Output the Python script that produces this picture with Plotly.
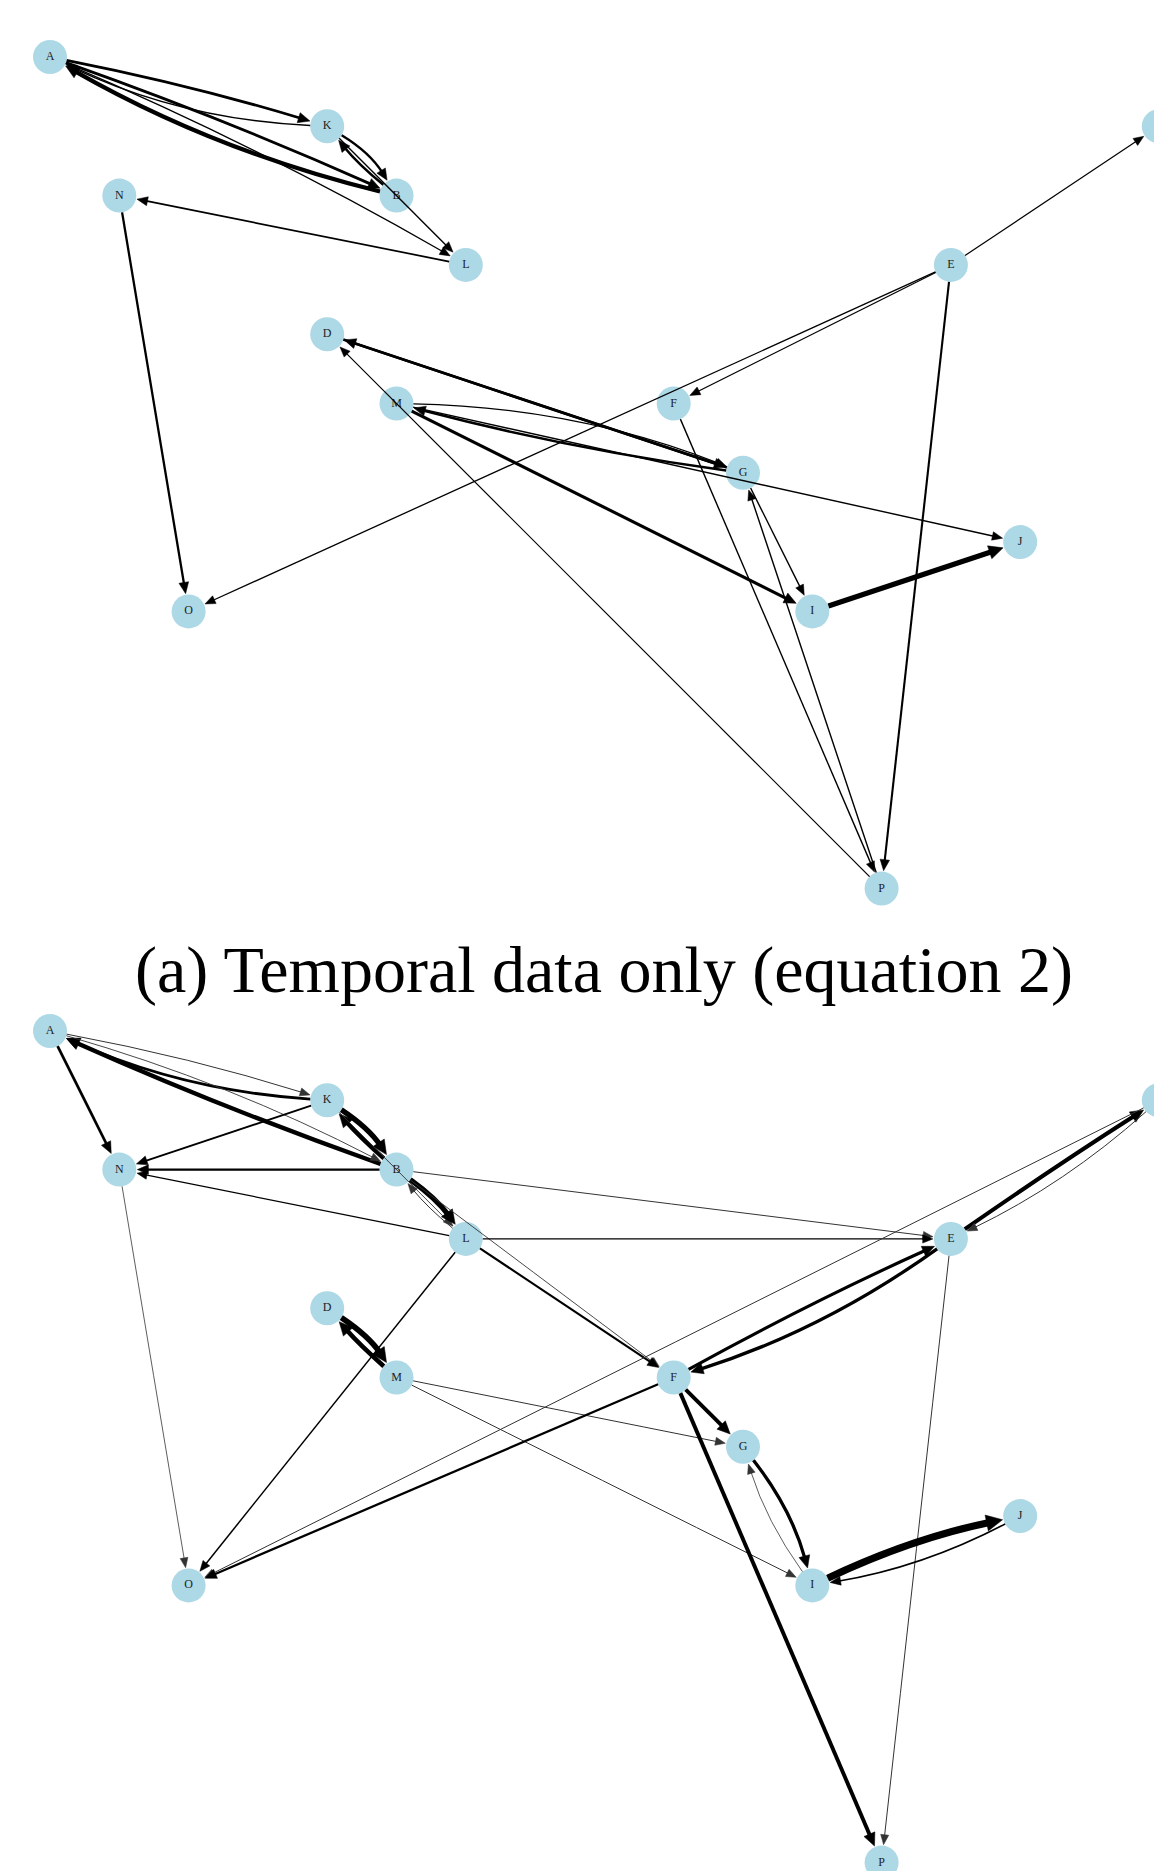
import math
import plotly.graph_objects as go

# ---------------- data ----------------
nodes = ["A", "B", "C", "D", "E", "F", "G", "I", "J", "K", "L", "M", "N", "O", "P"]
node_col = [0, 5, 16, 4, 13, 9, 10, 11, 14, 4, 6, 5, 1, 2, 12]
node_row = [0, 2, 1, 4, 3, 5, 6, 8, 7, 1, 3, 5, 2, 8, 12]

title_a = "(a) Temporal data only (equation 2)"

# panel (a): temporal data only
a_src = ["A", "K", "A", "B", "A", "K", "B", "K", "L", "N", "D", "G", "M", "G", "M", "M",
         "G", "P", "F", "P", "E", "E", "E", "E", "I"]
a_dst = ["K", "A", "B", "A", "L", "B", "K", "L", "N", "O", "G", "D", "G", "M", "J", "I",
         "I", "G", "P", "D", "P", "F", "O", "C", "J"]
a_weight = [2.8, 1.4, 2.8, 4.2, 1.3, 2.4, 2.6, 1.4, 1.7, 2.3, 2.7, 2.6, 1.4, 2.5, 1.4, 3.1,
            1.4, 1.4, 1.4, 1.2, 2.1, 1.3, 1.3, 1.2, 5.2]

# panel (b): combined
b_src = ["A", "K", "B", "A", "A", "K", "B", "L", "N", "K", "B", "K", "B", "L", "B", "B",
         "L", "L", "L", "D", "M", "M", "M", "E", "C", "C", "F", "F", "E", "E", "F", "F",
         "G", "I", "I", "J"]
b_dst = ["K", "A", "A", "B", "N", "N", "N", "N", "O", "B", "K", "L", "L", "B", "F", "E",
         "E", "F", "O", "M", "D", "G", "I", "C", "E", "O", "O", "E", "F", "P", "G", "P",
         "I", "G", "J", "I"]
b_weight = [1.0, 2.9, 4.3, 0.9, 2.7, 1.9, 2.1, 1.2, 0.8, 5.2, 4.3, 0.9, 5.2, 1.0, 0.9, 1.0,
            1.2, 2.1, 1.5, 5.6, 4.6, 1.0, 1.0, 4.1, 1.0, 1.0, 2.3, 3.1, 3.3, 1.0, 3.9, 3.9,
            3.3, 0.8, 7.2, 1.6]

# ---------------- style ----------------
a_curve = {("A", "K"): -0.025, ("K", "A"): -0.10, ("A", "B"): -0.02, ("B", "A"): -0.07,
           ("A", "L"): -0.03, ("K", "B"): -0.12, ("B", "K"): -0.05,
           ("M", "G"): -0.09, ("G", "M"): -0.03}
b_curve = {("A", "K"): -0.03, ("K", "A"): -0.09, ("B", "A"): -0.02, ("A", "B"): -0.05,
           ("K", "B"): -0.10, ("B", "K"): -0.03, ("B", "L"): -0.08, ("L", "B"): -0.05,
           ("D", "M"): -0.10, ("M", "D"): -0.03, ("E", "C"): -0.01, ("C", "E"): -0.07,
           ("F", "E"): -0.02, ("E", "F"): -0.08, ("G", "I"): -0.10, ("I", "G"): -0.08,
           ("I", "J"): -0.06, ("J", "I"): -0.08}

PAGE_OFFSET = 8      # default body margin of the html page
UNIT = 69.3          # px per grid step
X0 = 50.0 - PAGE_OFFSET
TOP_Y0 = 57.0 - PAGE_OFFSET
BOT_Y0 = 1031.0 - PAGE_OFFSET
W, H = 1162 - PAGE_OFFSET, 1871 - PAGE_OFFSET
TOP_PANEL = (0, 922)
BOT_PANEL = (932, H)
NODE_D = 34
R = NODE_D / 2 / UNIT

pos = {n: (c, r) for n, c, r in zip(nodes, node_col, node_row)}

fig = go.Figure()


def add_graph(src, dst, weight, curve, xref, yref):
    shapes = []
    for s, d, w in zip(src, dst, weight):
        x0, y0 = pos[s]
        x1, y1 = pos[d]
        rad = curve.get((s, d), 0.0)
        dx, dy = x1 - x0, y1 - y0
        cx = (x0 + x1) / 2 - rad * dy
        cy = (y0 + y1) / 2 + rad * dx
        tx, ty = cx - x0, cy - y0
        n = math.hypot(tx, ty)
        sx, sy = x0 + R * tx / n, y0 + R * ty / n
        ex, ey = x1 - cx, y1 - cy
        n = math.hypot(ex, ey)
        ux, uy = ex / n, ey / n
        tipx, tipy = x1 - (R + 1 / UNIT) * ux, y1 - (R + 1 / UNIT) * uy
        alen = (9.0 + 1.0 * w) / UNIT
        ahw = (3.4 + 0.65 * w) / UNIT
        bx, by = tipx - alen * ux, tipy - alen * uy
        lx, ly = tipx - 0.75 * alen * ux, tipy - 0.75 * alen * uy
        col = "#000000" if w >= 1.1 else "#333333"
        shapes.append(dict(type="path", xref=xref, yref=yref, layer="above",
                           path=f"M {sx:.4f},{sy:.4f} Q {cx:.4f},{cy:.4f} {lx:.4f},{ly:.4f}",
                           line=dict(color=col, width=w), fillcolor="rgba(0,0,0,0)"))
        px, py = -uy, ux
        shapes.append(dict(type="path", xref=xref, yref=yref, layer="above",
                           path=(f"M {tipx:.4f},{tipy:.4f} L {bx + ahw * px:.4f},{by + ahw * py:.4f} "
                                 f"L {bx - ahw * px:.4f},{by - ahw * py:.4f} Z"),
                           line=dict(color=col, width=0.5), fillcolor=col))
    fig.add_trace(go.Scatter(
        x=node_col, y=node_row, mode="markers+text", text=nodes,
        textposition="middle center",
        textfont=dict(family="Liberation Serif", size=12, color="#222222"),
        marker=dict(size=NODE_D, color="#ADD8E6", line=dict(width=0)),
        xaxis=xref, yaxis=yref, hoverinfo="text", showlegend=False))
    return shapes


shapes = add_graph(a_src, a_dst, a_weight, a_curve, "x", "y")
shapes += add_graph(b_src, b_dst, b_weight, b_curve, "x2", "y2")

xr = [(0 - X0) / UNIT, (W - X0) / UNIT]
top_yr = [(TOP_PANEL[1] - TOP_Y0) / UNIT, (TOP_PANEL[0] - TOP_Y0) / UNIT]
bot_yr = [(BOT_PANEL[1] - BOT_Y0) / UNIT, (BOT_PANEL[0] - BOT_Y0) / UNIT]
ax = dict(visible=False, showgrid=False, zeroline=False, fixedrange=True)

fig.update_layout(
    width=W, height=H, margin=dict(l=0, r=0, t=0, b=0),
    paper_bgcolor="white", plot_bgcolor="white", showlegend=False,
    xaxis=dict(ax, range=xr, domain=[0, 1]),
    yaxis=dict(ax, range=top_yr, domain=[1 - TOP_PANEL[1] / H, 1 - TOP_PANEL[0] / H]),
    xaxis2=dict(ax, range=xr, domain=[0, 1], anchor="y2"),
    yaxis2=dict(ax, range=bot_yr, domain=[1 - BOT_PANEL[1] / H, 1 - BOT_PANEL[0] / H], anchor="x2"),
    shapes=shapes,
    annotations=[dict(text=title_a, x=596 / W, y=1 - 962 / H, xref="paper", yref="paper",
                      xanchor="center", yanchor="middle", showarrow=False,
                      font=dict(family="Liberation Serif", size=66, color="black"))],
)

fig.write_html("out.html")
